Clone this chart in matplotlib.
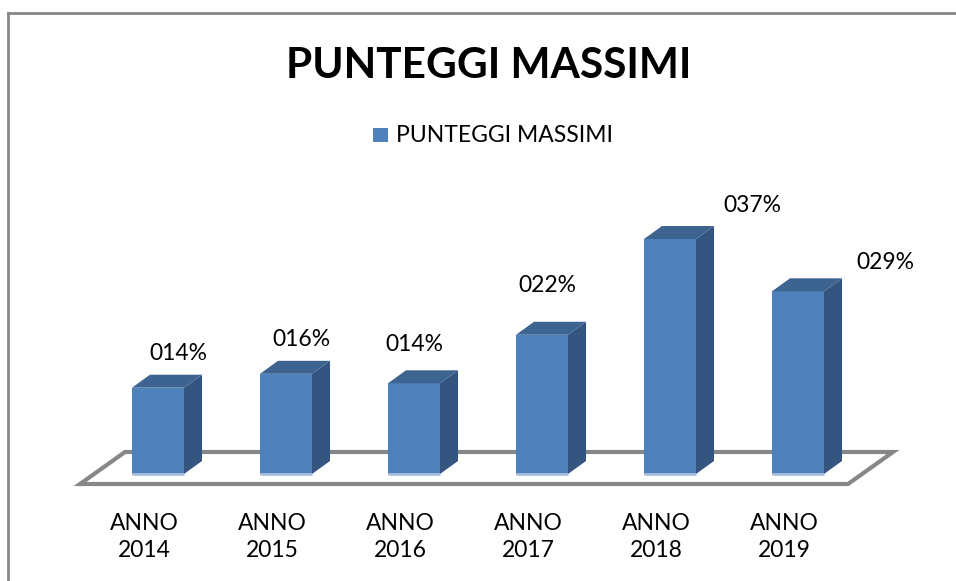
import matplotlib
matplotlib.use('Agg')
import matplotlib.pyplot as plt
from matplotlib.patches import Polygon, Rectangle
from matplotlib.lines import Line2D

# data
anni = ['ANNO\n2014', 'ANNO\n2015', 'ANNO\n2016', 'ANNO\n2017', 'ANNO\n2018', 'ANNO\n2019']
punteggi = [0.137, 0.159, 0.144, 0.221, 0.373, 0.290]
serie = 'PUNTEGGI MASSIMI'
titolo = 'PUNTEGGI MASSIMI'

plt.rcParams['font.family'] = ['Lato', 'DejaVu Sans']

W, H = 956, 581
fig = plt.figure(figsize=(W / 100, H / 100), dpi=100)
ax = fig.add_axes([0, 0, 1, 1])

# pixel layout of the pseudo-3d plot: category step 128 px, 6.3 px per percent
x0_px, base_px, step_px, ppv = 158, 474, 128, 6.3
ax.set_xlim((0 - x0_px) / step_px, (W - x0_px) / step_px)
ax.set_ylim((base_px - H) / ppv, base_px / ppv)
ax.axis('off')

def px(dx, dy):
    # pixel offsets -> data offsets (dy positive = up)
    return dx / step_px, dy / ppv

# chart border, only top and left are inside the picture
bx, by = 8 / W, 1 - 13 / H
fig.add_artist(Line2D([bx, 1.05], [by, by], transform=fig.transFigure, color='#878787', linewidth=2))
fig.add_artist(Line2D([bx, bx], [-0.05, by], transform=fig.transFigure, color='#878787', linewidth=2))

n = len(punteggi)
fdx, fdy = px(45, 32)      # floor depth
bdx, bdy = px(18, 13)      # bar depth
odx, ody = px(14, 10)      # bar front offset from floor front
bw = 52 / step_px          # bar width

# floor
fl = -0.5 - odx
fr = n - 0.5 - odx
fy = -ody
ax.add_patch(Polygon([(fl, fy), (fr, fy), (fr + fdx, fy + fdy), (fl + fdx, fy + fdy)],
                     closed=True, facecolor='white', edgecolor='#878787', linewidth=3, zorder=1))

front_c, side_c, top_c = '#4F81BD', '#33557F', '#3D6491'
vals = [v * 100 for v in punteggi]
bars = ax.bar(range(n), vals, width=bw, color=front_c, zorder=3, linewidth=0)
for i, v in enumerate(vals):
    l, r = i - bw / 2, i + bw / 2
    ax.add_patch(Polygon([(r, 0), (r, v), (r + bdx, v + bdy), (r + bdx, bdy)],
                         closed=True, facecolor=side_c, edgecolor='none', zorder=3))
    ax.add_patch(Polygon([(l, v), (r, v), (r + bdx, v + bdy), (l + bdx, v + bdy)],
                         closed=True, facecolor=top_c, edgecolor='none', zorder=3))
    ax.plot([l, r], [0, 0], color='#A7BFDE', linewidth=2, zorder=4, solid_capstyle='butt')

# data labels (placed by hand in the original)
lab_dx = [20, 15, 0, 5, 82, 87]
lab_dy = [34, 34, 39, 49, 34, 29]
for i, v in enumerate(punteggi):
    ddx, ddy = px(lab_dx[i], lab_dy[i])
    ax.text(i + ddx, vals[i] + ddy, '{:03.0f}%'.format(v * 100), ha='center', va='center',
            fontsize=16.5, color='black', zorder=5)

# category labels along the floor front edge
for i, lab in enumerate(anni):
    ax.text(i - odx, fy - 53 / ppv, lab, ha='center', va='center', fontsize=16.5,
            linespacing=1.3, color='black')

# title and legend
fig.text(489 / W, 1 - 66 / H, titolo, ha='center', va='center', fontsize=30.5,
         fontweight='bold', color='black')
fig.patches.append(Rectangle((373 / W, 1 - 142 / H), 15 / W, 14 / H, transform=fig.transFigure,
                             facecolor=front_c, edgecolor='none'))
fig.text(396 / W, 1 - 135 / H, serie, ha='left', va='center', fontsize=16.5, color='black')

fig.savefig('out.png', dpi=100)
